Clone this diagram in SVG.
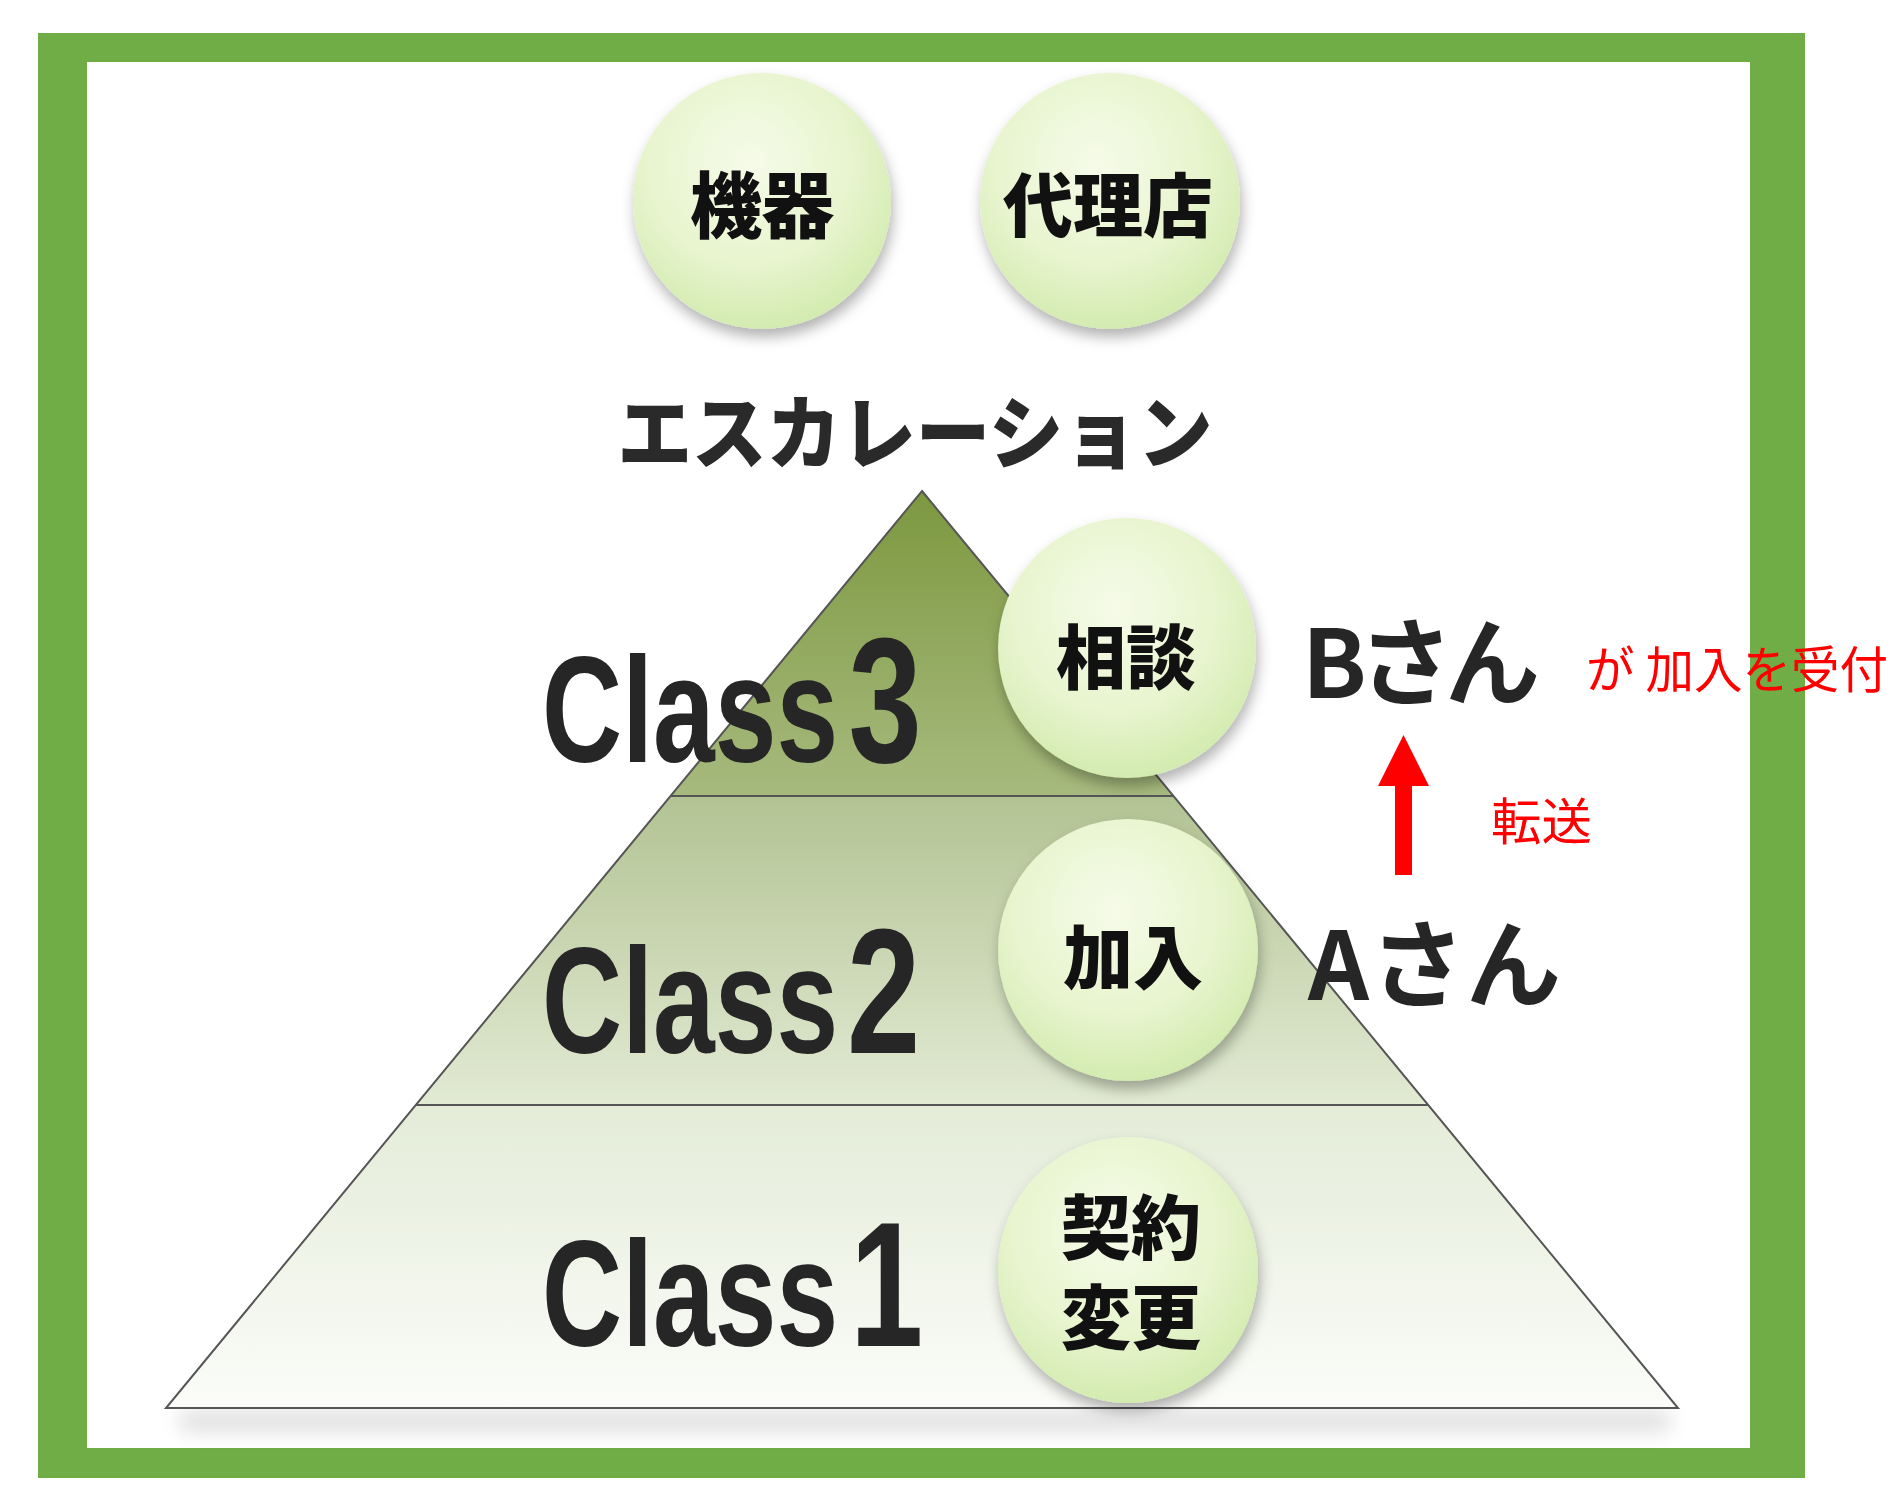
<svg xmlns="http://www.w3.org/2000/svg" width="1902" height="1502" viewBox="0 0 1902 1502">
<defs>
<style>
.ball{fill:url(#ballGrad);}
.lbl{font-family:"Noto Sans CJK JP","Noto Sans",sans-serif;font-weight:900;fill:#111;text-anchor:middle;}
.cls{font-family:"Liberation Sans",Arial,sans-serif;font-weight:bold;fill:#262626;font-size:150px;}
.dig{font-size:178px;}
.who{font-family:"Noto Sans CJK JP","Noto Sans",sans-serif;font-weight:700;fill:#262626;}
.red{font-family:"Noto Sans CJK JP","Noto Sans",sans-serif;fill:#ff0000;}
.edge{fill:none;stroke:#555;stroke-width:2;}
</style>
<radialGradient id="ballGrad" cx="0.45" cy="0.35" r="0.65">
<stop offset="0" stop-color="#f6fbe9"/>
<stop offset="0.6" stop-color="#e8f5cf"/>
<stop offset="1" stop-color="#d3ebb0"/>
</radialGradient>
<linearGradient id="g3" x1="0" y1="0" x2="0" y2="1">
<stop offset="0" stop-color="#7c983f"/>
<stop offset="1" stop-color="#a7ba7e"/>
</linearGradient>
<linearGradient id="g2" x1="0" y1="0" x2="0" y2="1">
<stop offset="0" stop-color="#b2c393"/>
<stop offset="1" stop-color="#e2ead3"/>
</linearGradient>
<linearGradient id="g1" x1="0" y1="0" x2="0" y2="1">
<stop offset="0" stop-color="#e4ecd8"/>
<stop offset="1" stop-color="#fbfcf9"/>
</linearGradient>
<filter id="sh" x="-30%" y="-30%" width="160%" height="170%">
<feDropShadow dx="2" dy="8" stdDeviation="7" flood-color="#000" flood-opacity="0.3"/>
</filter>
<filter id="blur" x="-10%" y="-100%" width="120%" height="300%">
<feGaussianBlur stdDeviation="10"/>
</filter>
</defs>

<g id="frame">
<rect x="38" y="33" width="1767" height="1445" fill="#70ad47"/>
<rect x="87" y="62" width="1663" height="1386" fill="#ffffff"/>
</g>

<g id="pyramid">
<rect x="180" y="1410" width="1490" height="22" fill="#000" opacity="0.12" filter="url(#blur)"/>
<polygon points="416,1105 1428,1105 1678,1408 166,1408" fill="url(#g1)"/>
<polygon points="671,796 1173,796 1428,1105 416,1105" fill="url(#g2)"/>
<polygon points="922,491 1173,796 671,796" fill="url(#g3)"/>
<polygon class="edge" points="922,491 1678,1408 166,1408"/>
<line class="edge" x1="671" y1="796" x2="1173" y2="796"/>
<line class="edge" x1="416" y1="1105" x2="1428" y2="1105"/>
</g>

<g id="escalation">
<text x="915" y="462" text-anchor="middle" font-family="Noto Sans CJK JP, sans-serif" font-weight="900" font-size="80" fill="#2a2a2a" textLength="595" lengthAdjust="spacingAndGlyphs">エスカレーション</text>
</g>

<g id="class3">
<text class="cls" transform="translate(542,762) scale(0.74,1)">Class<tspan class="dig" dx="14">3</tspan></text>
</g>
<g id="class2">
<text class="cls" transform="translate(542,1053) scale(0.74,1)">Class<tspan class="dig" dx="12">2</tspan></text>
</g>
<g id="class1">
<text class="cls" transform="translate(542,1346) scale(0.74,1)">Class<tspan class="dig" dx="16" font-size="182">1</tspan></text>
</g>

<g id="node-kiki">
<ellipse class="ball" cx="762" cy="201" rx="129" ry="128" filter="url(#sh)"/>
<text class="lbl" x="762" y="232" font-size="72">機器</text>
</g>
<g id="node-dairiten">
<ellipse class="ball" cx="1110" cy="201" rx="130" ry="128" filter="url(#sh)"/>
<text class="lbl" x="1108" y="232" font-size="70">代理店</text>
</g>
<g id="node-soudan">
<ellipse class="ball" cx="1127" cy="648" rx="129" ry="130" filter="url(#sh)"/>
<text class="lbl" x="1126" y="684" font-size="70">相談</text>
</g>
<g id="node-kanyu">
<ellipse class="ball" cx="1128" cy="950" rx="130" ry="131" filter="url(#sh)"/>
<text class="lbl" x="1133" y="984" font-size="70">加入</text>
</g>
<g id="node-keiyaku">
<ellipse class="ball" cx="1128" cy="1270" rx="130" ry="133" filter="url(#sh)"/>
<text class="lbl" font-size="70"><tspan x="1131" y="1254">契約</tspan><tspan x="1131" y="1344">変更</tspan></text>
</g>

<g id="node-b">
<text class="who" x="1302" y="698" font-size="95" textLength="238" lengthAdjust="spacing">Bさん</text>
</g>
<g id="node-a">
<text class="who" x="1308" y="1000" font-size="95" textLength="253" lengthAdjust="spacing">Aさん</text>
</g>

<g id="connectors">
<rect x="1395" y="785" width="17" height="90" fill="#ff0000"/>
<polygon points="1403.5,735 1429,786 1378,786" fill="#ff0000"/>
</g>

<g id="labels">
<text class="red" x="1586" y="688" font-size="50" textLength="302" lengthAdjust="spacingAndGlyphs">が 加入を受付</text>
<text class="red" x="1491" y="840" font-size="50" textLength="101" lengthAdjust="spacingAndGlyphs">転送</text>
</g>
</svg>
